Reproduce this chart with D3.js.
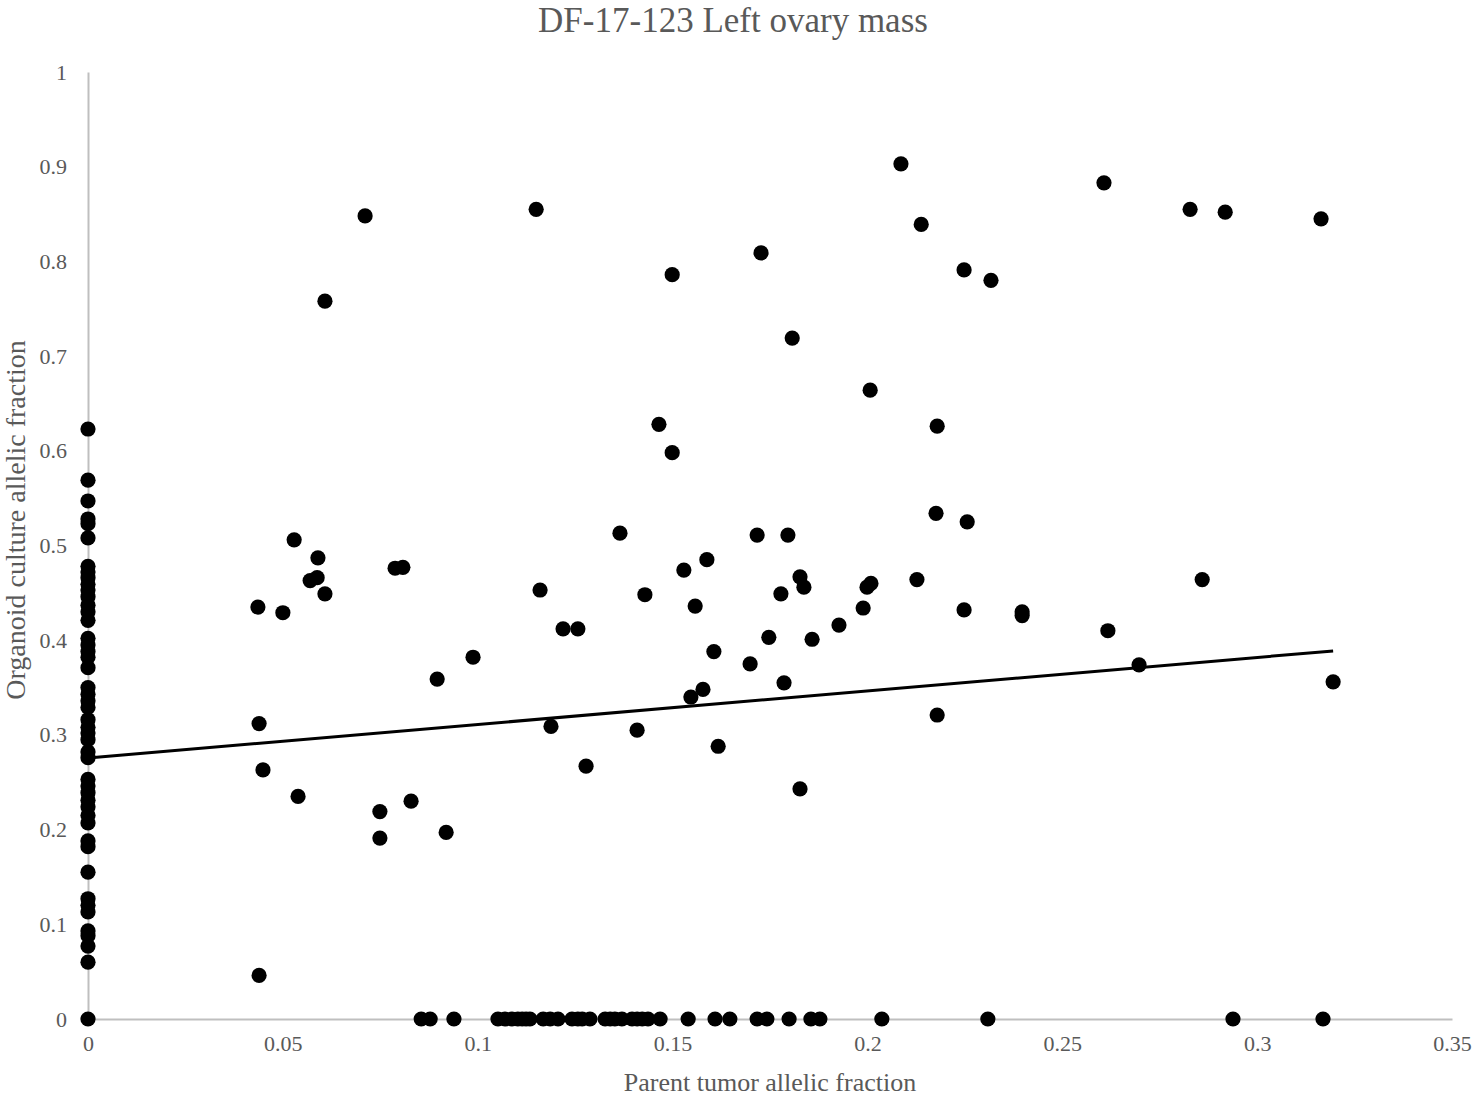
<!DOCTYPE html>
<html><head><meta charset="utf-8">
<script src="https://cdn.jsdelivr.net/npm/d3@7"></script>
<style>
html,body{margin:0;padding:0;background:#fff;}
text{font-family:"Liberation Serif","Times New Roman",serif;fill:#595959;}
</style></head>
<body>
<svg id="chart" width="1474" height="1099"></svg>
<script>
const title = "DF-17-123 Left ovary mass";
const xTitle = "Parent tumor allelic fraction";
const yTitle = "Organoid culture allelic fraction";
const xTicks = [0, 0.05, 0.1, 0.15, 0.2, 0.25, 0.3, 0.35];
const yTicks = [0, 0.1, 0.2, 0.3, 0.4, 0.5, 0.6, 0.7, 0.8, 0.9, 1];

// Points with parent tumor AF = 0 (organoid AF values)
const zeroParentY = [0.623,0.569,0.547,0.528,0.523,0.508,0.478,0.472,0.466,0.459,0.453,0.446,0.437,0.430,0.421,
  0.402,0.395,0.388,0.382,0.371,0.350,0.343,0.336,0.329,0.316,0.308,0.302,0.295,0.282,0.276,
  0.253,0.246,0.239,0.231,0.224,0.215,0.207,0.188,0.182,0.155,0.127,0.120,0.113,0.093,0.088,0.077,0.060,0];

// Points with organoid AF = 0 (parent tumor AF values)
const zeroOrganoidX = [0.0855,0.0878,0.0939,0.1052,0.107,0.1088,0.1103,0.1114,0.1124,0.1134,0.1168,0.1186,0.1206,
  0.1242,0.1257,0.1268,0.1288,0.1327,0.134,0.1352,0.137,0.1396,0.1409,0.1422,0.1437,0.1468,0.154,0.1609,
  0.1647,0.1717,0.1742,0.1799,0.1855,0.1878,0.2037,0.2309,0.2938,0.3169];

// Other points: parent AF and organoid AF
const parentAF = [0.0711,0.115,0.0608,0.2086,0.2138,0.2248,0.2317,0.1727,0.1499,0.1807,0.2007,0.1465,0.2179,0.1499,
  0.2607,0.2828,0.2918,0.3164,0.1365,0.1717,0.1796,0.2176,0.2256,0.0529,0.059,0.0588,0.057,0.0608,0.0788,0.0808,
  0.0436,0.05,0.116,0.1529,0.1588,0.1429,0.1558,0.1219,0.1257,0.0988,0.0896,0.1606,0.1747,0.1699,0.1547,0.1578,
  0.1786,0.1778,0.1827,0.1837,0.1858,0.1927,0.1989,0.1999,0.2009,0.2127,0.2248,0.2397,0.2397,0.2617,0.2859,
  0.2697,0.3195,0.2179,0.0439,0.0449,0.0539,0.0749,0.0749,0.0829,0.0919,0.1188,0.1409,0.1278,0.1617,0.1827,0.0439];
const organoidAF = [0.848,0.855,0.758,0.903,0.839,0.791,0.780,0.809,0.786,0.719,0.664,0.628,0.626,0.598,
  0.883,0.855,0.852,0.845,0.513,0.511,0.511,0.534,0.525,0.506,0.487,0.466,0.463,0.449,0.476,0.477,
  0.435,0.429,0.453,0.474,0.485,0.448,0.436,0.412,0.412,0.382,0.359,0.388,0.403,0.375,0.340,0.348,
  0.355,0.449,0.467,0.456,0.401,0.416,0.434,0.456,0.460,0.464,0.432,0.430,0.426,0.410,0.464,
  0.374,0.356,0.321,0.312,0.263,0.235,0.219,0.191,0.230,0.197,0.309,0.305,0.267,0.288,0.243,0.046];

// Linear trendline
const trendIntercept = 0.2756;
const trendSlope = 0.354;

const points = [];
zeroParentY.forEach(v => points.push({x:0, y:v}));
zeroOrganoidX.forEach(v => points.push({x:v, y:0}));
parentAF.forEach((v,i) => points.push({x:v, y:organoidAF[i]}));

const svg = d3.select("#chart");
const x = d3.scaleLinear().domain([0, 0.35]).range([88, 1452]);
const y = d3.scaleLinear().domain([0, 1]).range([1019, 72]);

// x axis
const xAxis = svg.append("g").attr("transform", "translate(0,1019)")
  .call(d3.axisBottom(x).tickValues(xTicks).tickSize(0).tickPadding(16).tickFormat(d => d3.format("")(+d.toFixed(2))));
xAxis.select(".domain").attr("stroke", "#bfbfbf").attr("stroke-width", 2);
xAxis.selectAll("text").attr("font-size", 22).attr("font-family", "Liberation Serif").attr("fill", "#595959");

const yAxis = svg.append("g").attr("transform", "translate(88,0)")
  .call(d3.axisLeft(y).tickValues(yTicks).tickSize(0).tickPadding(21).tickFormat(d => d3.format("")(+d.toFixed(1))));
yAxis.select(".domain").attr("stroke", "#bfbfbf").attr("stroke-width", 2);
yAxis.selectAll("text").attr("font-size", 22).attr("font-family", "Liberation Serif").attr("fill", "#595959");

// points
svg.append("g").selectAll("circle").data(points).join("circle")
  .attr("cx", d => x(d.x)).attr("cy", d => y(d.y)).attr("r", 7.6).attr("fill", "#000");

// trendline
const xMax = d3.max(points, d => d.x);
svg.append("line")
  .attr("x1", x(0)).attr("y1", y(trendIntercept))
  .attr("x2", x(xMax)).attr("y2", y(trendIntercept + trendSlope * xMax))
  .attr("stroke", "#000").attr("stroke-width", 3);

// titles
svg.append("text").attr("x", 733).attr("y", 32).attr("text-anchor", "middle")
  .attr("font-size", 35).text(title);
svg.append("text").attr("x", 770).attr("y", 1091).attr("text-anchor", "middle")
  .attr("font-size", 26).text(xTitle);
svg.append("text").attr("transform", "translate(25,520) rotate(-90)").attr("text-anchor", "middle")
  .attr("font-size", 28).text(yTitle);
</script>
</body></html>
